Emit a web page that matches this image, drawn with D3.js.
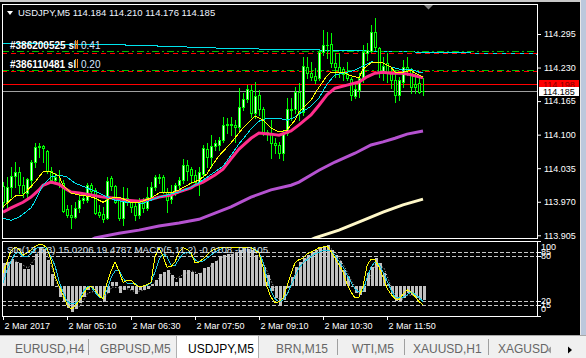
<!DOCTYPE html>
<html>
<head>
<meta charset="utf-8">
<script src="https://cdn.jsdelivr.net/npm/d3@7"></script>
<style>
html, body { margin: 0; padding: 0; background: #000; overflow: hidden; }
svg { display: block; font-family: "Liberation Sans", Arial, sans-serif; }
</style>
</head>
<body>
<div id="chart"></div>
<script>
// ---- data (USDJPY M5) ----
const opens = [114.000,113.969,113.998,114.020,114.028,114.002,113.987,114.012,114.047,114.076,
  114.078,114.068,114.030,114.012,114.006,114.006,113.956,113.944,113.940,113.958,
  113.973,113.973,114.002,113.993,113.950,113.946,113.938,114.016,114.000,113.973,
  113.938,113.977,113.969,113.962,113.944,113.969,113.958,113.979,113.998,114.016,
  114.018,113.989,113.975,113.989,114.002,114.012,114.041,114.033,114.022,114.008,
  114.024,114.072,114.057,114.078,114.080,114.090,114.119,114.120,114.119,114.115,
  114.154,114.169,114.186,114.142,114.177,114.150,114.105,114.101,114.084,114.080,
  114.064,114.103,114.150,114.150,114.183,114.144,114.231,114.219,114.214,114.210,
  114.260,114.274,114.276,114.239,114.231,114.227,114.217,114.208,114.175,114.186,
  114.210,114.258,114.262,114.299,114.268,114.219,114.239,114.221,114.206,114.177,
  114.202,114.231,114.227,114.198,114.200,114.184];
const highs = [114.008,114.018,114.037,114.047,114.037,114.018,114.016,114.051,114.084,114.084,
  114.080,114.070,114.037,114.026,114.031,114.012,113.964,113.964,113.969,113.987,
  113.987,114.006,114.006,113.997,113.964,113.960,114.018,114.020,114.002,113.979,
  113.998,113.997,113.973,113.973,113.977,113.977,113.998,114.008,114.022,114.024,
  114.022,113.997,114.002,114.006,114.018,114.053,114.051,114.037,114.031,114.037,
  114.080,114.084,114.099,114.090,114.095,114.134,114.132,114.134,114.128,114.190,
  114.181,114.196,114.196,114.202,114.186,114.154,114.109,114.128,114.093,114.086,
  114.109,114.171,114.171,114.192,114.200,114.250,114.250,114.241,114.229,114.264,
  114.303,114.299,114.297,114.258,114.258,114.231,114.241,114.212,114.202,114.219,
  114.274,114.278,114.312,114.326,114.270,114.250,114.258,114.231,114.225,114.212,
  114.245,114.250,114.229,114.219,114.216,114.210];
const lows = [113.960,113.960,113.979,113.998,113.987,113.979,113.977,113.998,114.037,114.057,
  114.047,114.026,114.006,114.006,113.998,113.950,113.940,113.919,113.938,113.950,
  113.967,113.969,113.987,113.946,113.940,113.931,113.936,113.993,113.967,113.934,
  113.925,113.964,113.950,113.934,113.938,113.950,113.954,113.977,113.993,114.006,
  113.987,113.950,113.967,113.983,113.997,114.006,114.012,114.006,114.006,113.983,
  114.018,114.037,114.037,114.070,114.070,114.086,114.103,114.099,114.086,114.109,
  114.148,114.163,114.134,114.132,114.138,114.099,114.090,114.055,114.064,114.055,
  114.051,114.099,114.128,114.142,114.128,114.138,114.210,114.206,114.200,114.206,
  114.254,114.248,114.231,114.212,114.212,114.206,114.206,114.167,114.171,114.173,
  114.202,114.245,114.260,114.264,114.212,114.206,114.202,114.190,114.163,114.167,
  114.192,114.216,114.181,114.181,114.181,114.176];
const closes = [113.969,113.998,114.020,114.028,114.002,113.987,114.014,114.047,114.076,114.078,
  114.074,114.030,114.012,114.018,114.004,113.952,113.944,113.940,113.958,113.973,
  113.977,114.002,113.991,113.948,113.944,113.936,114.010,114.000,113.969,113.938,
  113.977,113.969,113.960,113.944,113.969,113.958,113.979,113.998,114.018,114.017,
  113.989,113.973,113.989,114.002,114.012,114.041,114.030,114.022,114.008,114.028,
  114.074,114.057,114.078,114.084,114.090,114.119,114.120,114.119,114.115,114.154,
  114.169,114.188,114.142,114.175,114.150,114.103,114.101,114.084,114.080,114.064,
  114.103,114.150,114.148,114.183,114.144,114.233,114.219,114.212,114.206,114.260,
  114.274,114.273,114.239,114.231,114.221,114.217,114.210,114.177,114.188,114.210,
  114.260,114.264,114.299,114.270,114.219,114.233,114.221,114.206,114.177,114.206,
  114.231,114.225,114.192,114.192,114.183,114.185];

// moving averages, [bar, price]
const maYellow = [[0,113.960],[3,113.981],[5,113.983],[8,114.008],[10,114.028],[12,114.028],[14,114.020],[15,114.002],
  [17,113.987],[19,113.983],[21,113.981],[23,113.977],[25,113.969],[27,113.977],[29,113.979],[32,113.969],[34,113.969],
  [37,113.977],[39,113.987],[42,113.987],[44,113.993],[47,114.006],[49,114.012],[51,114.024],[52,114.037],[54,114.059],
  [57,114.084],[60,114.113],[63,114.136],[65,114.128],[67,114.113],[69,114.105],[71,114.109],[73,114.128],[74,114.144],
  [77,114.167],[79,114.192],[81,114.214],[82,114.221],[85,114.221],[87,114.214],[89,114.210],[90,114.227],[92,114.239],
  [95,114.239],[97,114.231],[98,114.221],[100,114.221],[102,114.225],[103,114.219],[105,114.212]];
const maCyan = [[0,113.938],[2,113.934],[4,113.940],[7,113.958],[8,113.971],[10,114.002],[12,114.018],[14,114.022],
  [16,114.018],[18,114.006],[20,114.000],[24,113.987],[25,113.983],[28,113.973],[31,113.969],[35,113.967],[37,113.973],
  [39,113.979],[42,113.985],[44,113.989],[46,113.995],[48,114.002],[50,114.012],[53,114.028],[55,114.039],[57,114.060],
  [59,114.082],[62,114.111],[64,114.126],[66,114.132],[69,114.132],[71,114.128],[73,114.134],[74,114.140],[77,114.155],
  [79,114.171],[81,114.198],[83,114.216],[85,114.219],[88,114.225],[90,114.233],[92,114.241],[95,114.239],[97,114.231],
  [100,114.225],[102,114.227],[104,114.221],[105,114.221]];
const maPink = [[0,113.950],[2,113.958],[5,113.969],[7,113.979],[9,113.993],[10,114.002],[12,114.008],[14,114.004],
  [15,113.998],[17,113.989],[19,113.987],[22,113.983],[25,113.979],[28,113.977],[31,113.973],[34,113.971],[37,113.975],
  [39,113.979],[42,113.983],[44,113.989],[47,113.997],[48,114.002],[50,114.008],[53,114.022],[55,114.033],[57,114.053],
  [59,114.072],[62,114.093],[64,114.103],[67,114.101],[69,114.099],[72,114.107],[74,114.119],[77,114.138],[79,114.157],
  [81,114.177],[83,114.190],[86,114.196],[89,114.202],[91,114.212],[93,114.219],[95,114.221],[97,114.219],[100,114.219],
  [102,114.216],[105,114.210]];
const maPurple = [[21,113.892],[23,113.900],[29,113.909],[34,113.915],[39,113.923],[44,113.929],[49,113.936],[53,113.948],
  [57,113.960],[62,113.979],[67,113.993],[72,114.002],[74,114.008],[77,114.022],[79,114.031],[83,114.047],[88,114.064],
  [92,114.080],[95,114.086],[98,114.093],[101,114.101],[105,114.107]];
const maCream = [[76,113.893],[78,113.900],[84,113.915],[90,113.934],[95,113.950],[100,113.964],[105,113.975]];

// drawn objects
const trendLine = [[-0.25,114.2766],[30.5,114.2737],[42.5,114.2708],[53,114.2679],[66.75,114.2654],[79.25,114.2640],
  [103,114.2601],[116.75,114.2582],[133.5,114.2562]];
const greenLevels = [114.263, 114.2247];
const redLevels = [114.258, 114.2233];
const alertPrice = 114.198;
const bidPrice = 114.185;
const orderTickets = ['#386200525', '#386110481'];
const orderLots = ['0.41', '0.20'];
const orderPrices = [114.273, 114.236];

// oscillators
const stochMain = [57,72,87,92,89,81,84,88,93,95,95,91,75,53,40,28,15,9,13,20,
  28,37,40,35,27,23,44,60,72,60,45,47,48,42,39,40,42,45,79,91,
  80,65,66,72,85,91,89,84,71,72,76,81,87,89,91,91,91,91,91,91,
  91,92,91,88,84,65,39,25,18,19,24,40,56,71,75,77,83,85,88,91,
  92,93,86,77,68,59,43,32,24,25,40,67,76,75,65,52,37,29,23,22,
  29,35,32,26,19,15.0206];
const stochSignal = [44,61,73,83,85,79,79,83,89,92,92,89,79,67,47,32,20,16,17,20,
  32,39,39,32,25,24,35,51,60,61,51,44,44,43,39,40,41,44,59,75,
  83,79,68,67,76,83,85,83,75,72,73,77,81,85,88,91,91,91,91,91,
  91,91,91,89,85,72,51,33,23,19,21,29,41,53,64,71,75,79,83,85,
  87,88,87,81,73,65,55,45,36,32,33,51,65,72,69,59,47,35,25,24,
  25,28,32,29,25,19.4787];
const macdHist = [0.0177,0.0185,0.0208,0.0185,0.0177,0.0131,0.0131,0.0162,0.0246,0.0292,
  0.0285,0.0200,0.0092,-0.0008,-0.0085,-0.0123,-0.0169,-0.0200,-0.0177,-0.0131,
  -0.0085,-0.0031,-0.0015,-0.0054,-0.0085,-0.0123,-0.0054,0.0031,0.0031,-0.0054,
  -0.0031,-0.0015,-0.0031,-0.0062,-0.0031,-0.0031,-0.0023,0.0015,0.0046,0.0092,
  0.0108,0.0123,0.0085,0.0031,0.0062,0.0123,0.0123,0.0108,0.0092,0.0100,
  0.0138,0.0146,0.0177,0.0192,0.0223,0.0238,0.0246,0.0246,0.0262,0.0277,
  0.0292,0.0285,0.0277,0.0238,0.0200,0.0146,0.0085,-0.0038,-0.0092,-0.0146,
  -0.0108,-0.0015,0.0069,0.0146,0.0185,0.0215,0.0238,0.0262,0.0277,0.0292,
  0.0308,0.0315,0.0277,0.0238,0.0192,0.0123,0.0069,-0.0008,-0.0054,-0.0069,
  -0.0046,0.0100,0.0146,0.0215,0.0177,0.0100,0.0015,-0.0062,-0.0115,-0.0115,
  -0.0092,-0.0054,-0.0069,-0.0092,-0.0108,-0.0108];
const macdSignal = [[0,0.0169],[3,0.0192],[6,0.0138],[9,0.0262],[11,0.0238],[13,0.0038],[15,-0.0100],[17,-0.0185],
  [19,-0.0154],[21,-0.0054],[23,-0.0038],[25,-0.0100],[27,-0.0008],[29,-0.0015],[31,-0.0023],[33,-0.0046],[35,-0.0031],
  [37,0],[39,0.0069],[41,0.0115],[43,0.0054],[45,0.0092],[47,0.0115],[49,0.0092],[51,0.0138],[53,0.0185],[55,0.0231],
  [57,0.0246],[59,0.0269],[61,0.0285],[63,0.0254],[65,0.0169],[67,0.0023],[69,-0.0115],[71,-0.0062],[73,0.0108],
  [75,0.0200],[77,0.0246],[79,0.0285],[81,0.0308],[83,0.0254],[85,0.0154],[87,0.0031],[89,-0.0062],[91,0.0023],
  [93,0.0177],[95,0.0138],[97,-0.0023],[99,-0.0115],[101,-0.0069],[103,-0.0077],[105,-0.0105]];
const stochLevels = [85, 80, 20, 15];
const stochLabels = [100, 85, 80, 20, 15, 0];

// axes
const priceTicks = [114.295, 114.230, 114.165, 114.100, 114.035, 113.970, 113.905];
const timeBars = [0, 16, 32, 48, 64, 80, 96];
const timeLabels = ['2 Mar 2017', '2 Mar 05:10', '2 Mar 06:30', '2 Mar 07:50', '2 Mar 09:10', '2 Mar 10:30', '2 Mar 11:50'];
const tabs = ['EURUSD,H4', 'GBPUSD,M5', 'USDJPY,M5', 'BRN,M15', 'WTI,M5', 'XAUUSD,H1', 'XAGUSD'];
const activeTab = 2;

// ---- layout ----
const width = 586, height = 358;
const main = {left: 2, right: 537, top: 4, bottom: 238};
const sub = {left: 2, right: 537, top: 241, bottom: 316};
const tabX = [15, 100, 188, 276, 352, 413, 498];
const tabSeps = [88, 337, 404, 488];

const svg = d3.select('#chart').append('svg')
  .attr('width', width)
  .attr('height', height);

svg.append('rect').attr('width', width).attr('height', height).attr('fill', '#000');
svg.append('rect').attr('width', 580).attr('height', 2).attr('fill', '#c8c8c8');

const n = opens.length;
const x = d3.scaleLinear().domain([0, n - 1]).range([3, 3 + 4 * (n - 1)]);
const y = d3.scaleLinear().domain([113.905, 114.295]).range([235.3, 34]);
const ySto = d3.scaleLinear().domain([0, 100]).range([sub.bottom, sub.top]);
const yMacd = d3.scaleLinear().domain([-0.0231, 0.0346]).range([sub.bottom, sub.top]);

svg.append('clipPath').attr('id', 'clipMain').append('rect')
  .attr('x', main.left + 1).attr('y', main.top + 1)
  .attr('width', main.right - main.left - 1).attr('height', main.bottom - main.top - 1);
svg.append('clipPath').attr('id', 'clipSub').append('rect')
  .attr('x', sub.left + 1).attr('y', sub.top + 1)
  .attr('width', sub.right - sub.left - 1).attr('height', sub.bottom - sub.top - 1);

const g = svg.append('g').attr('clip-path', 'url(#clipMain)').attr('shape-rendering', 'crispEdges');
const lineXY = d3.line().x(d => x(d[0])).y(d => y(d[1]));

// horizontal objects
g.append('path').datum(trendLine).attr('d', lineXY)
  .attr('fill', 'none').attr('stroke', '#00e5ee').attr('stroke-width', 1);
g.selectAll('.lvlG').data(greenLevels).join('line')
  .attr('x1', main.left).attr('x2', main.right)
  .attr('y1', d => Math.round(y(d)) + 0.5).attr('y2', d => Math.round(y(d)) + 0.5)
  .attr('stroke', '#00c000').attr('stroke-dasharray', '7,3,2,3');
g.selectAll('.lvlR').data(redLevels).join('line')
  .attr('x1', main.left).attr('x2', main.right)
  .attr('y1', d => Math.round(y(d)) + 0.5).attr('y2', d => Math.round(y(d)) + 0.5)
  .attr('stroke', '#ff0000').attr('stroke-dasharray', '5,4');
g.append('line').attr('x1', main.left).attr('x2', main.right)
  .attr('y1', Math.round(y(alertPrice)) + 0.5).attr('y2', Math.round(y(alertPrice)) + 0.5)
  .attr('stroke', '#ff0000');
g.append('line').attr('x1', main.left).attr('x2', main.right)
  .attr('y1', Math.round(y(bidPrice)) + 0.5).attr('y2', Math.round(y(bidPrice)) + 0.5)
  .attr('stroke', '#a0a0a0');

// candles
const candle = g.selectAll('.candle').data(d3.range(n)).join('g');
candle.append('rect')
  .attr('x', i => x(i)).attr('width', 1)
  .attr('y', i => Math.round(y(highs[i])))
  .attr('height', i => Math.round(y(lows[i])) - Math.round(y(highs[i])) + 1)
  .attr('fill', '#00ff00');
candle.append('rect')
  .attr('x', i => x(i) - 1).attr('width', 3)
  .attr('y', i => Math.round(y(Math.max(opens[i], closes[i]))))
  .attr('height', i => Math.max(1, Math.round(y(Math.min(opens[i], closes[i]))) - Math.round(y(Math.max(opens[i], closes[i]))) + 1))
  .attr('fill', '#00ff00');
candle.filter(i => Math.round(y(Math.min(opens[i], closes[i]))) - Math.round(y(Math.max(opens[i], closes[i]))) >= 2)
  .append('rect')
  .attr('x', i => x(i)).attr('width', 1)
  .attr('y', i => Math.round(y(Math.max(opens[i], closes[i]))) + 1)
  .attr('height', i => Math.round(y(Math.min(opens[i], closes[i]))) - Math.round(y(Math.max(opens[i], closes[i]))) - 1)
  .attr('fill', i => closes[i] > opens[i] ? '#e8ffe8' : '#000');

// moving averages
[[maCream, '#fff8c8', 3], [maPurple, '#b552d0', 3], [maPink, '#ff2d8c', 3], [maCyan, '#00e5ee', 1], [maYellow, '#ffff00', 1]]
  .forEach(([data, color, w]) => {
    g.append('path').datum(data).attr('d', lineXY)
      .attr('fill', 'none').attr('stroke', color).attr('stroke-width', w)
      .attr('shape-rendering', w > 1 ? 'auto' : 'crispEdges');
  });

// order labels
const labels = svg.append('g').attr('font-size', 10);
orderTickets.forEach((t, k) => {
  const ly = Math.round(y(orderPrices[k])) + 4;
  labels.append('text').attr('x', 10).attr('y', ly).attr('fill', '#fff').attr('font-weight', 'bold').text(t + ' sl');
  labels.append('rect').attr('x', 75).attr('y', ly - 9).attr('width', 1).attr('height', 9).attr('fill', '#e0a020');
  labels.append('rect').attr('x', 77).attr('y', ly - 9).attr('width', 1).attr('height', 9).attr('fill', '#ff8020');
  labels.append('text').attr('x', 81).attr('y', ly).attr('fill', '#d8e8ff').text(orderLots[k]);
});

// title
svg.append('path').attr('d', 'M7,11 L13,11 L10,15 Z').attr('fill', '#fff');
svg.append('text').attr('x', 18).attr('y', 16).attr('font-size', 9.5).attr('fill', '#eef4ff')
  .text(`USDJPY,M5  ${opens[n - 1].toFixed(3)} ${highs[n - 1].toFixed(3)} ${lows[n - 1].toFixed(3)} ${closes[n - 1].toFixed(3)}`);
svg.append('path').attr('d', 'M424,5 L433,5 L428.5,9.5 Z').attr('fill', '#808080');

// frames
svg.append('rect').attr('x', main.left + 0.5).attr('y', main.top + 0.5)
  .attr('width', main.right - main.left).attr('height', main.bottom - main.top)
  .attr('fill', 'none').attr('stroke', '#fff');
svg.append('rect').attr('x', sub.left + 0.5).attr('y', sub.top + 0.5)
  .attr('width', sub.right - sub.left).attr('height', sub.bottom - sub.top)
  .attr('fill', 'none').attr('stroke', '#fff');

// price axis
svg.append('g').attr('transform', `translate(${main.right},0)`)
  .call(d3.axisRight(y).tickValues(priceTicks).tickFormat(d3.format('.3f')).tickSize(4).tickPadding(3))
  .attr('font-size', 9).attr('font-family', null)
  .call(a => a.select('.domain').remove())
  .call(a => a.selectAll('line').attr('stroke', '#fff'))
  .call(a => a.selectAll('text').attr('fill', '#fff'));

// price tags
[[alertPrice, '#ff0000', '#800000'], [bidPrice, '#ffffff', '#000']].forEach(([p, bg, fg]) => {
  const cy = y(p);
  svg.append('rect').attr('x', 539).attr('y', Math.round(cy) - 4).attr('width', 40).attr('height', 9).attr('fill', bg);
  svg.append('text').attr('x', 543).attr('y', Math.round(cy) + 4).attr('font-size', 9).attr('fill', fg).text(p.toFixed(3));
});

// sub window
const s = svg.append('g').attr('clip-path', 'url(#clipSub)');
s.selectAll('.hist').data(macdHist).join('rect')
  .attr('x', (d, i) => x(i)).attr('width', 3)
  .attr('y', d => Math.round(Math.min(yMacd(d), yMacd(0))))
  .attr('height', d => Math.max(1, Math.round(Math.abs(yMacd(d) - yMacd(0)))))
  .attr('fill', '#c0c0c0').attr('shape-rendering', 'crispEdges');
s.selectAll('.lvl').data(stochLevels).join('line')
  .attr('x1', sub.left).attr('x2', sub.right)
  .attr('y1', d => Math.round(ySto(d)) + 0.5).attr('y2', d => Math.round(ySto(d)) + 0.5)
  .attr('stroke', '#c8c8c8').attr('stroke-dasharray', '4,2').attr('shape-rendering', 'crispEdges');
s.append('path').datum(macdSignal)
  .attr('d', d3.line().x(d => x(d[0]) + 1).y(d => yMacd(d[1])))
  .attr('fill', 'none').attr('stroke', '#d0d0d0').attr('stroke-dasharray', '1,2');
const stoLine = d3.line().x((d, i) => x(i)).y(d => ySto(d));
s.append('path').datum(stochSignal).attr('d', stoLine)
  .attr('fill', 'none').attr('stroke', '#22c8e0').attr('shape-rendering', 'crispEdges');
s.append('path').datum(stochMain).attr('d', stoLine)
  .attr('fill', 'none').attr('stroke', '#ffff00').attr('shape-rendering', 'crispEdges');

svg.append('text').attr('x', 7).attr('y', 253).attr('font-size', 9.8).attr('fill', '#dde6f0')
  .text(`Sto(13,3,3) ${stochMain[n - 1].toFixed(4)} ${stochSignal[n - 1].toFixed(4)}  MACD(5,11,2) ${macdHist[n - 1].toFixed(4)} ${macdSignal[macdSignal.length - 1][1].toFixed(4)}`);

stochLabels.forEach(v => {
  const cy = Math.min(Math.max(ySto(v), sub.top + 6), sub.bottom - 7);
  svg.append('line').attr('x1', sub.right).attr('x2', sub.right + 4)
    .attr('y1', Math.round(ySto(v)) + 0.5).attr('y2', Math.round(ySto(v)) + 0.5).attr('stroke', '#fff');
  svg.append('text').attr('x', 541).attr('y', cy).attr('dy', '0.32em')
    .attr('font-size', 9).attr('fill', '#fff').text(v);
});

// time axis
svg.append('g').attr('transform', `translate(0,${sub.bottom})`)
  .call(d3.axisBottom(x).tickValues(timeBars).tickFormat((d, i) => timeLabels[i]).tickSize(4).tickPadding(3))
  .attr('font-size', 9).attr('font-family', null)
  .call(a => a.select('.domain').remove())
  .call(a => a.selectAll('line').attr('stroke', '#fff'))
  .call(a => a.selectAll('text').attr('fill', '#fff').attr('text-anchor', 'start').attr('dx', 1));

// right strip
svg.append('rect').attr('x', 580).attr('y', 0).attr('width', 1).attr('height', 335).attr('fill', '#e8e8e8');
svg.append('rect').attr('x', 581).attr('y', 0).attr('width', 5).attr('height', 335).attr('fill', '#bcc8dc');

// tab bar
svg.append('rect').attr('x', 0).attr('y', 335).attr('width', width).attr('height', 23).attr('fill', '#f0f0f0');
svg.append('line').attr('x1', 0).attr('x2', width).attr('y1', 335.5).attr('y2', 335.5).attr('stroke', '#a8a8a8');
svg.append('rect').attr('x', 176.5).attr('y', 335.5).attr('width', 82).attr('height', 23)
  .attr('fill', '#fff').attr('stroke', '#b0b0b0');
tabSeps.forEach(sx => svg.append('line').attr('x1', sx + 0.5).attr('x2', sx + 0.5)
  .attr('y1', 339).attr('y2', 355).attr('stroke', '#a0a0a0'));
svg.selectAll('.tab').data(tabs).join('text')
  .attr('x', (d, i) => tabX[i]).attr('y', 353)
  .attr('font-size', 12).attr('fill', (d, i) => i === activeTab ? '#000' : '#666')
  .text(d => d);
svg.append('path').attr('d', 'M547,350 L551,346.5 L551,353.5 Z').attr('fill', '#a0a0a0');
svg.append('path').attr('d', 'M568,346.5 L572,350 L568,353.5 Z').attr('fill', '#000');
</script>
</body>
</html>
